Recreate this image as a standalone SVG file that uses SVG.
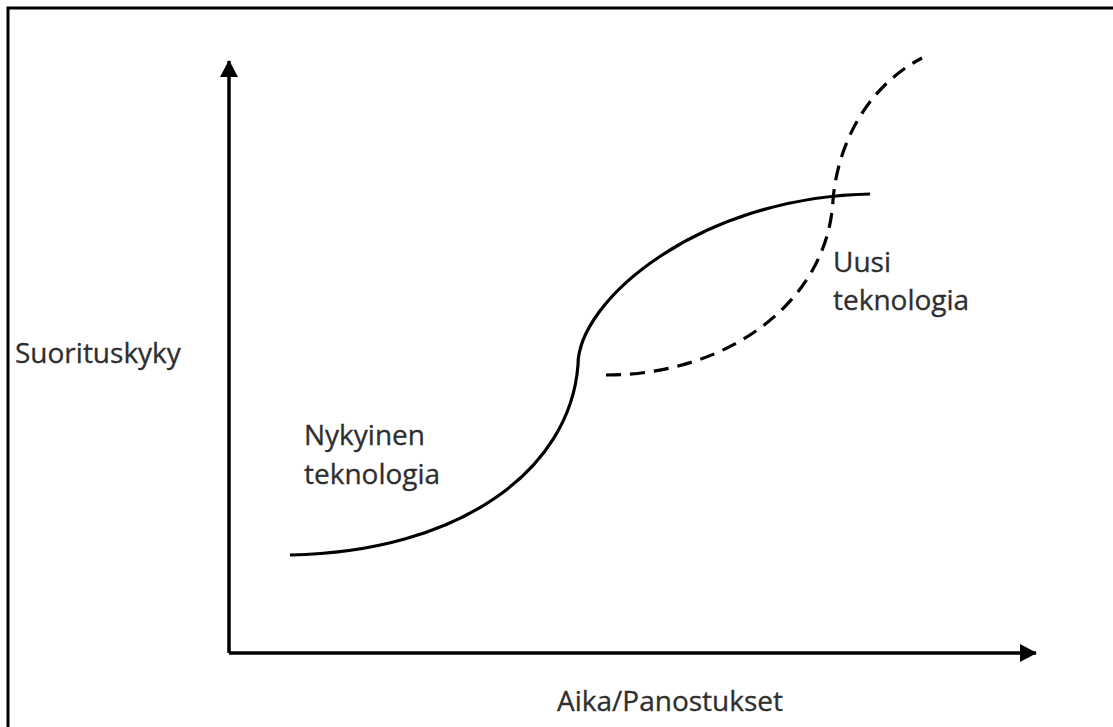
<svg xmlns="http://www.w3.org/2000/svg" width="1113" height="727" viewBox="0 0 1113 727">
  <style>
    .label { font-family: "Open Sans", "Noto Sans", "Liberation Sans", sans-serif; font-size: 28px; fill: #2e2e2e; stroke: #2e2e2e; stroke-width: 0.3; }
    .axis { stroke: #000; stroke-width: 3.5; fill: none; }
    .curve { stroke: #000; stroke-width: 3.2; fill: none; stroke-linecap: butt; }
    .dashed { stroke-dasharray: 15 9; }
  </style>
  <defs>
    <marker id="arrow" markerUnits="userSpaceOnUse" markerWidth="18" markerHeight="20" refX="16" refY="9" orient="auto" viewBox="0 0 18 18">
      <path d="M0,0 L17,9 L0,18 Z" fill="#000"/>
    </marker>
  </defs>

  <rect width="1113" height="727" fill="#fff"/>
  <!-- outer frame, open to the right and bottom -->
  <rect x="8" y="8" width="1120" height="740" fill="none" stroke="#000" stroke-width="3"/>

  <g id="connectors">
    <!-- axes -->
    <path class="axis" d="M229,653 L229,61" marker-end="url(#arrow)"/>
    <path class="axis" d="M229,653 L1036,653" marker-end="url(#arrow)"/>
    <!-- current technology S-curve -->
    <path id="curve-current" class="curve" d="M290,555 C460,552 570,470 578,365 C578,300 700,197 870,194"/>
    <!-- new technology S-curve -->
    <path id="curve-new" class="curve dashed" d="M606,375 C730,375 828,300 833,200 C838,140 870,85 922,58"/>
  </g>

  <g id="label-y">
    <text class="label" x="15" y="363">Suorituskyky</text>
  </g>
  <g id="label-x">
    <text class="label" x="557" y="711">Aika/Panostukset</text>
  </g>
  <g id="label-current">
    <text class="label" x="304" y="445">Nykyinen</text>
    <text class="label" x="304" y="484">teknologia</text>
  </g>
  <g id="label-new">
    <text class="label" x="833" y="272">Uusi</text>
    <text class="label" x="833" y="310">teknologia</text>
  </g>
</svg>
